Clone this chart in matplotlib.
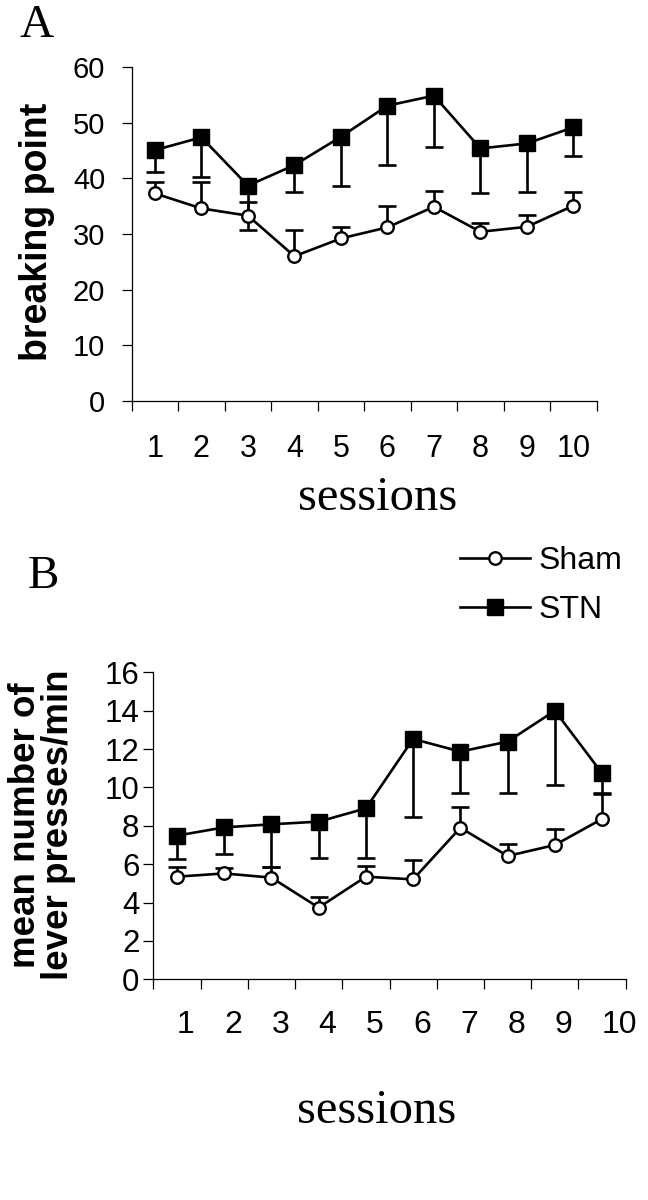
import matplotlib
matplotlib.use("Agg")
import matplotlib.pyplot as plt
import numpy as np

plt.rcParams['font.family'] = ['Liberation Sans', 'DejaVu Sans']

sessions = np.arange(1, 11)
session_labels = [str(s) for s in sessions]

# panel A: breaking point
a_stn = [45.1, 47.4, 38.7, 42.4, 47.5, 53.1, 54.9, 45.4, 46.3, 49.2]
a_stn_sem = [4.0, 7.1, 8.0, 4.8, 8.9, 10.7, 9.2, 8.0, 8.8, 5.2]
a_sham = [37.3, 34.6, 33.3, 26.0, 29.2, 31.2, 34.9, 30.4, 31.3, 35.1]
a_sham_sem = [2.0, 4.8, 2.5, 4.8, 2.1, 3.8, 2.9, 1.5, 2.1, 2.4]

# panel B: lever presses per minute
b_stn = [7.49, 7.92, 8.08, 8.22, 8.91, 12.53, 11.87, 12.39, 14.0, 10.74]
b_stn_sem = [1.24, 1.39, 2.21, 1.91, 2.57, 4.05, 2.18, 2.70, 3.87, 1.01]
b_sham = [5.35, 5.52, 5.30, 3.74, 5.35, 5.21, 7.90, 6.43, 7.00, 8.36]
b_sham_sem = [0.49, 0.27, 0.57, 0.57, 0.57, 1.01, 1.10, 0.62, 0.82, 1.30]


def draw(ax, stn, stn_sem, sham, sham_sem):
    zero = np.zeros(len(sessions))
    # STN: error bars only downwards, sham: only upwards
    eb = ax.errorbar(sessions, stn, yerr=[stn_sem, zero], fmt='none',
                     ecolor='black', elinewidth=1.9, capsize=6.5, capthick=1.9, zorder=2)
    eb[1][1].remove()
    eb = ax.errorbar(sessions, sham, yerr=[zero, sham_sem], fmt='none',
                     ecolor='black', elinewidth=1.9, capsize=6.5, capthick=1.9, zorder=2)
    eb[1][0].remove()
    ax.plot(sessions, sham, color='black', lw=1.9, marker='o', ms=9,
            mfc='white', mec='black', mew=1.7, zorder=3, label='Sham')
    ax.plot(sessions, stn, color='black', lw=1.9, marker='s', ms=11,
            mfc='black', mec='black', mew=1, zorder=4, label='STN')
    ax.spines['top'].set_visible(False)
    ax.spines['right'].set_visible(False)
    for s in ['left', 'bottom']:
        ax.spines[s].set_linewidth(0.9)
    ax.set_xlim(0.5, 10.5)
    ax.set_xticks(np.arange(0.5, 11), minor=True)
    ax.tick_params(axis='x', which='minor', length=7, width=0.9, direction='out')
    ax.tick_params(axis='y', which='major', length=7, width=0.9, direction='out')


fig = plt.figure(figsize=(6.48, 12), dpi=100)

axA = fig.add_axes([0.2032, 0.6661, 0.7176, 0.2778])
draw(axA, a_stn, a_stn_sem, a_sham, a_sham_sem)
axA.set_ylim(0, 60)
axA.set_yticks(np.arange(0, 61, 10))
axA.set_xticks(sessions, session_labels)
axA.tick_params(axis='x', which='major', length=0, pad=24, labelsize=22)
axA.tick_params(axis='y', pad=12, labelsize=21)

axB = fig.add_axes([0.2366, 0.1839, 0.729, 0.2558])
draw(axB, b_stn, b_stn_sem, b_sham, b_sham_sem)
axB.set_ylim(0, 16)
axB.set_yticks(np.arange(0, 17, 2))
axB.set_xticks(sessions, session_labels, ha='left')
axB.tick_params(axis='x', which='major', length=0, pad=22, labelsize=23)
axB.tick_params(axis='y', pad=3, labelsize=22.5)

serif = ['Liberation Serif', 'DejaVu Serif']
fig.text(20 / 648, 1 - 37 / 1200, 'A', family=serif, fontsize=34, ha='left', va='baseline')
fig.text(28 / 648, 1 - 588 / 1200, 'B', family=serif, fontsize=34, ha='left', va='baseline')
fig.text(378 / 648, 1 - 510 / 1200, 'sessions', family=serif, fontsize=35, ha='center', va='baseline')
fig.text(377 / 648, 1 - 1123 / 1200, 'sessions', family=serif, fontsize=35, ha='center', va='baseline')

fig.text(37 / 648, 1 - 232 / 1200, 'breaking point', rotation=90, fontsize=27,
         fontweight='bold', ha='center', va='center')
fig.text(42 / 648, 1 - 825 / 1200, 'mean number of\nlever presses/min', rotation=90,
         fontsize=26.5, fontweight='bold', ha='center', va='center',
         multialignment='center', linespacing=0.95)

handles, labels = axB.get_legend_handles_labels()
fig.legend(handles, labels, loc='upper left', bbox_to_anchor=(460 / 648, 1 - 546 / 1200),
           frameon=False, fontsize=23, borderpad=0, borderaxespad=0,
           handlelength=2.2, handletextpad=0.25, labelspacing=0.6, numpoints=1)

fig.savefig('out.png', dpi=100)
